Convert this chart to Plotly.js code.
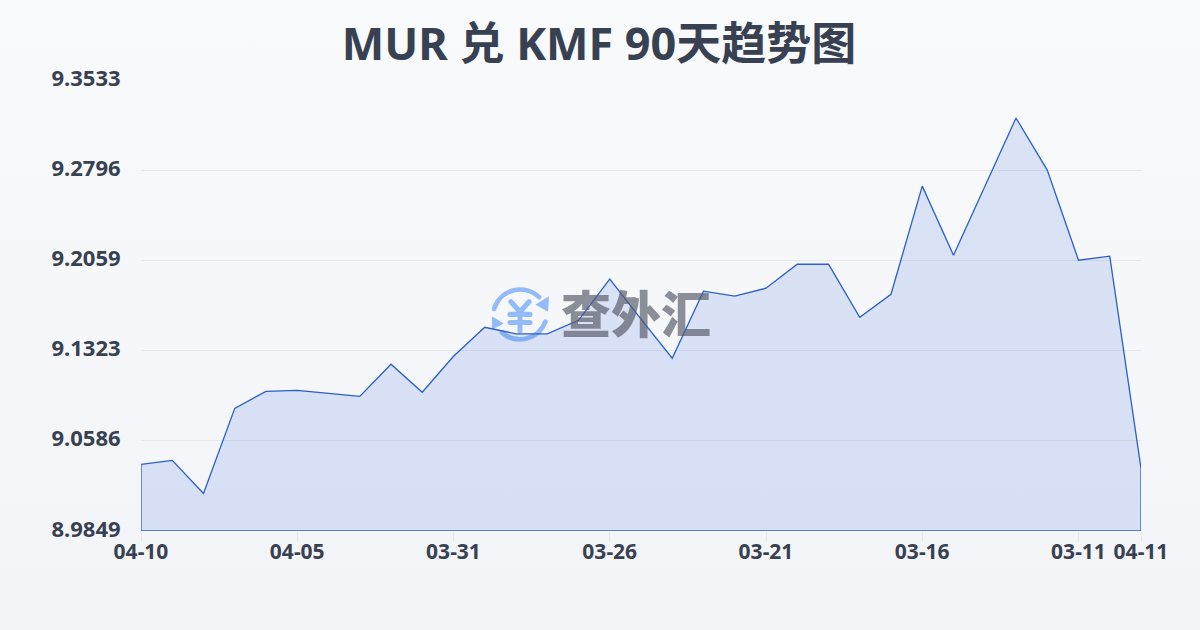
<!DOCTYPE html>
<html><head><meta charset="utf-8">
<script src="https://cdn.plot.ly/plotly-3.0.1.min.js"></script>
<style>
html,body{margin:0;padding:0;width:1200px;height:630px;overflow:hidden;background:linear-gradient(180deg,#f9fafc 0%,#f2f4f7 100%);}
#c{width:1200px;height:630px;}
</style></head><body><div id="c"></div>
<script>
const positions=[0,1,2,3,4,5,6,7,8,9,10,11,12,13,14,15,16,17,18,19,20,21,22,23,24,25,26,27,28,29,30,31,32];
const rates=[9.0393,9.0426,9.0156,9.0851,9.0990,9.0998,9.0973,9.0949,9.1211,9.0982,9.1276,9.1513,9.1460,9.1460,9.1570,9.1906,9.1579,9.1260,9.1808,9.1767,9.1832,9.2028,9.2028,9.1595,9.1783,9.2666,9.2102,9.2666,9.3222,9.2797,9.2061,9.2094,9.0360];
const xTickPos=[0,5,10,15,20,25,30,32];
const xTickText=['04-10','04-05','03-31','03-26','03-21','03-16','03-11','04-11'];
const yTicks=[8.9849,9.0586,9.1323,9.2059,9.2796,9.3533];
const yTickText=['8.9849','9.0586','9.1323','9.2059','9.2796','9.3533'];
const titleText='MUR 兑 KMF 90天趋势图';
const watermark='查外汇';
const FONT='"Noto Sans","Noto Sans CJK SC",sans-serif';
const INK='#374151';
const base=yTicks[0], first=positions[0], last=positions[positions.length-1];
const icon=`<svg xmlns="http://www.w3.org/2000/svg" viewBox="0 0 64 64"><g fill="none" stroke="#93bbf7" stroke-width="5.2" stroke-linecap="round"><path d="M3.5 25A30 30 0 0 1 53 12"/><path d="M60 39A30 30 0 0 1 12 51"/></g><path d="M64 11L63 28L49 20Z" fill="#93bbf7"/><path d="M1 33L1 48L14 41Z" fill="#93bbf7"/><g fill="none" stroke="#93bbf7" stroke-width="5.6" stroke-linecap="round"><path d="M22 17L32 28L42 17M32 28V49M21 31H43M21 40H43"/></g></svg>`;
Plotly.newPlot('c',[{
  x:[first].concat(positions,[last,first]),
  y:[base].concat(rates,[base,base]),
  mode:'lines',fill:'toself',fillcolor:'rgba(61,111,225,0.155)',
  line:{color:'#2a5fc9',width:1.3},hoverinfo:'skip',cliponaxis:false
}],{
  width:1200,height:630,
  paper_bgcolor:'rgba(0,0,0,0)',plot_bgcolor:'rgba(0,0,0,0)',
  margin:{l:141,r:59,t:80,b:99},showlegend:false,
  title:{text:titleText,x:0.4992,xanchor:'center',y:0.93,yanchor:'middle',font:{family:FONT,size:45,color:INK,weight:700}},
  xaxis:{range:[first,last],tickmode:'array',tickvals:xTickPos,ticktext:xTickText,showgrid:false,zeroline:false,showline:false,
    ticks:'outside',ticklen:10,tickcolor:'#e5e7eb',tickwidth:1,tickangle:0,ticklabelstandoff:-8,tickfont:{family:FONT,size:21,color:INK,weight:700}},
  yaxis:{range:[base,yTicks[5]],tickmode:'array',tickvals:yTicks,ticktext:yTickText,showgrid:true,gridcolor:'#e5e7eb',gridwidth:1,zeroline:false,showline:false,
    ticks:'outside',ticklen:15,tickcolor:'rgba(0,0,0,0)',ticklabelshift:-2,tickfont:{family:FONT,size:22,color:INK,weight:700}},
  images:[{source:'data:image/svg+xml;utf8,'+encodeURIComponent(icon),xref:'paper',yref:'paper',x:0.35,y:0.5427,sizex:0.058,sizey:0.1288,sizing:'contain',xanchor:'left',yanchor:'top',layer:'below'}],
  annotations:[{text:watermark,xref:'paper',yref:'paper',x:0.495,y:0.487,xanchor:'center',yanchor:'middle',showarrow:false,font:{family:'"Noto Sans CJK SC",sans-serif',size:50,color:'rgba(85,92,105,0.68)',weight:900}}]
},{displayModeBar:false,staticPlot:true});
</script></body></html>
